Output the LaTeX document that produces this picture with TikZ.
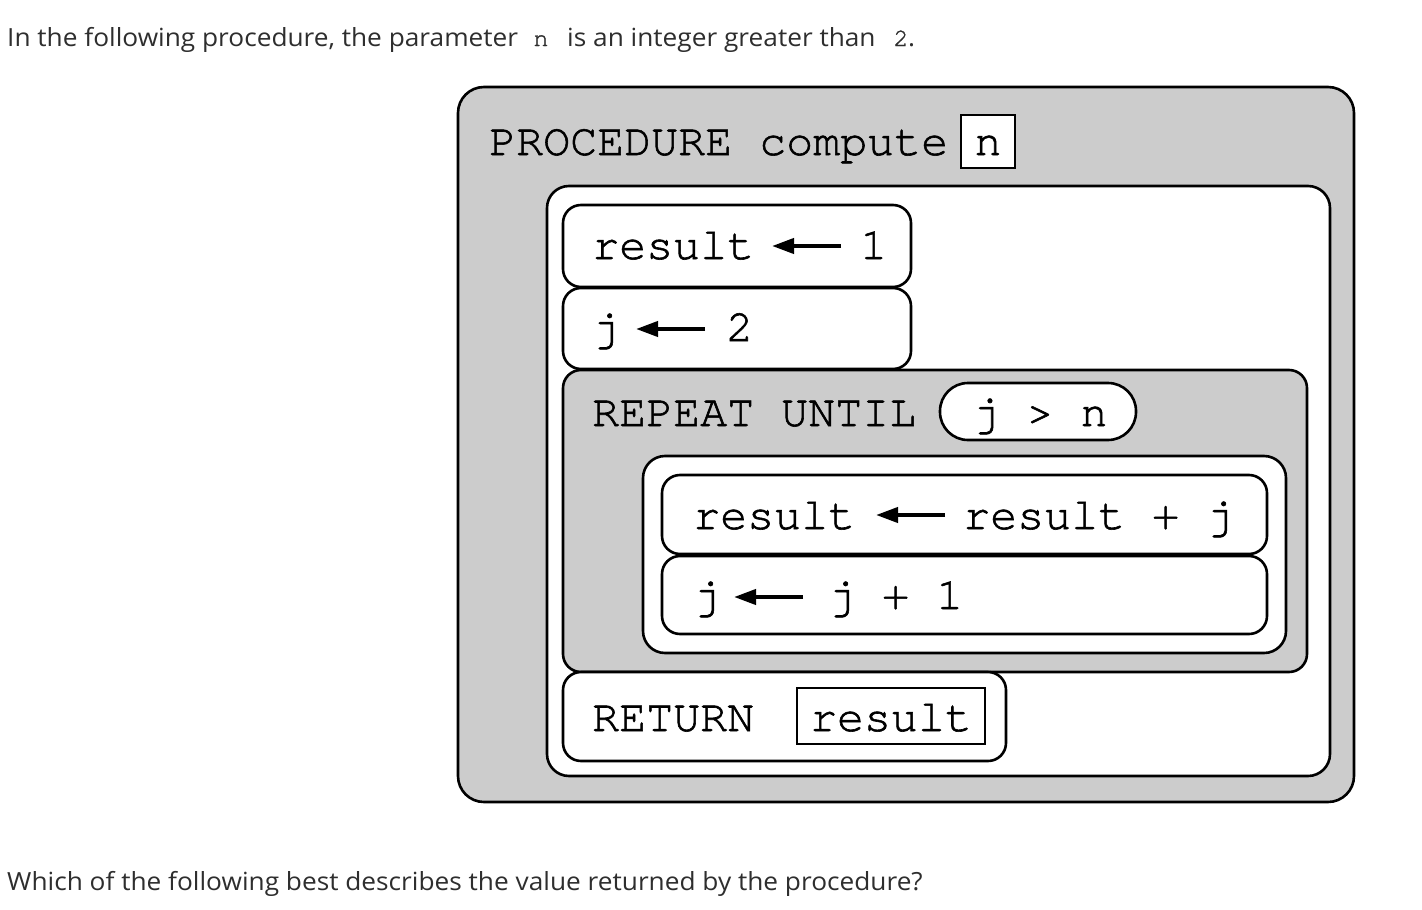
\documentclass[tikz,border=0pt]{standalone}
\usepackage{fontspec}
\setmainfont{Open Sans}[FakeStretch=1.05]
\newfontfamily\codefont{TeX Gyre Cursor}[FakeBold=1.3]
\usetikzlibrary{arrows.meta}
\begin{document}
\begin{tikzpicture}[x=1pt,y=-1pt,
  boxline/.style={line width=2.6pt},
  grayfill/.style={boxline,fill=boxgray},
  whitefill/.style={boxline,fill=white},
  code/.style={inner sep=0pt,anchor=base west,font=\codefont\fontsize{45}{50}\selectfont},
  codec/.style={inner sep=0pt,anchor=base,font=\codefont\fontsize{45}{50}\selectfont},
  prose/.style={inner sep=0pt,anchor=base west,font=\fontsize{25}{30}\selectfont,text=black!82},
  prosecode/.style={inner sep=0pt,anchor=base,font=\codefont\fontsize{25}{28}\selectfont,text=black!82},
  asgn/.style={line width=4pt,-{Triangle[length=22pt,width=15pt]}}
]
\definecolor{boxgray}{HTML}{CCCCCC}
\useasboundingbox[fill=white] (0,0) rectangle (1422,910);

% header
\node[prose] (h1) at (7,46) {In the following procedure, the parameter};
\node[prosecode] (hn) at (541,46) {n};
\node[prose] (h2) at (567,46) {is an integer greater than};
\node[prosecode] (h3) at (901,46) {2};
\node[prose] (h4) at (908,46) {.};

% outer procedure box
\draw[grayfill,rounded corners=26pt] (458,87) rectangle (1354,802);
\node[code] (proc) at (489,155) {PROCEDURE compute};
\draw[boxline,fill=white] (961,115) rectangle (1015,168);
\node[codec] (pn) at (988,155) {n};

% body
\draw[whitefill,rounded corners=22pt] (547,186) rectangle (1330,776);

% result <- 1
\draw[whitefill,rounded corners=18pt] (563,205) rectangle (911,287);
\node[code] (r1) at (592,259) {result};
\node[code] (one) at (860,259) {1};
\coordinate (a1s) at (841,246);
\coordinate (a1e) at (772,246);
\draw[asgn] (a1s) -- (a1e);

% j <- 2
\draw[whitefill,rounded corners=18pt] (563,288) rectangle (911,369);
\node[code] (j1) at (592,341) {j};
\node[code] (two) at (726,341) {2};
\coordinate (a2s) at (705,329);
\coordinate (a2e) at (636,329);
\draw[asgn] (a2s) -- (a2e);

% repeat
\draw[grayfill,rounded corners=18pt] (563,370) rectangle (1307,672);
\node[code] (rep) at (592,426) {REPEAT UNTIL};
\draw[whitefill,rounded corners=28pt] (940,383) rectangle (1136,440);
\node[codec] (cond) at (1040,426) {j > n};

\draw[whitefill,rounded corners=22pt] (643,456) rectangle (1286,653);

\draw[whitefill,rounded corners=18pt] (662,475) rectangle (1267,554);
\node[code] (r2) at (693,529) {result};
\node[code] (r3) at (963,529) {result + j};
\coordinate (a3s) at (945,515);
\coordinate (a3e) at (876,515);
\draw[asgn] (a3s) -- (a3e);

\draw[whitefill,rounded corners=18pt] (662,556) rectangle (1267,634);
\node[code] (j2) at (693,609) {j};
\node[code] (j3) at (828,609) {j + 1};
\coordinate (a4s) at (803,597);
\coordinate (a4e) at (734,597);
\draw[asgn] (a4s) -- (a4e);

% return
\draw[whitefill,rounded corners=18pt] (563,672) rectangle (1006,761);
\node[code] (ret) at (592,731) {RETURN};
\draw[boxline,fill=white] (797,688) rectangle (985,744);
\node[codec] (rv) at (891,731) {result};

% footer
\node[prose] (f1) at (7,890) {Which of the following best describes the value returned by the procedure?};
\end{tikzpicture}
\end{document}
